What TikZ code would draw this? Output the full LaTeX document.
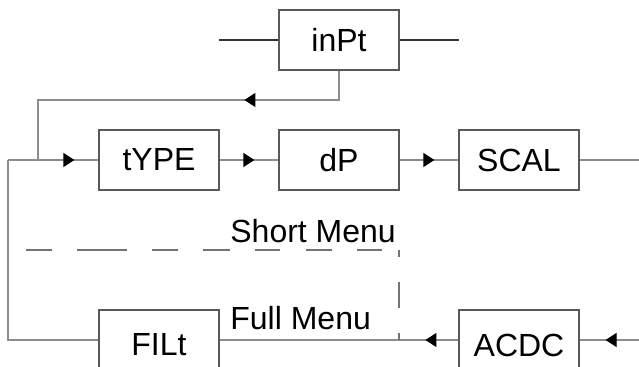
\documentclass[tikz,border=0pt]{standalone}
\usepackage{fontspec}
\setmainfont{Liberation Sans}
\usetikzlibrary{arrows.meta,decorations.markings}

\begin{document}
\begin{tikzpicture}[x=0.5pt,y=0.5pt,
    menubox/.style={draw=black!65,line width=0.6pt,minimum width=60pt,minimum height=30pt,inner sep=0pt,font=\fontsize{16}{19}\selectfont},
    lowbox/.style={menubox,minimum height=35pt},
    wire/.style={draw=black!45,line width=0.6pt},
    stub/.style={draw=black!80,line width=0.6pt},
    menuline/.style={draw=black!55,line width=0.6pt},
    tipat/.style={postaction={decorate},decoration={markings,mark=at position #1 with {\arrow[black]{Triangle[length=5.5pt,width=7pt]}}}}]
      \useasboundingbox (0,0) rectangle (639,367);
      % boxes
      \node[menubox] (inpt) at (339,327) {inPt};
      \node[menubox] (type) at (159,207) {tYPE};
      \node[menubox] (dp) at (339,207) {dP};
      \node[menubox] (scal) at (519,207) {SCAL};
      \node[lowbox] (filt) at (159,22) {FILt};
      \node[lowbox] (acdc) at (519,22) {ACDC};
      \coordinate (inl) at (219,327);
      \coordinate (inr) at (459,327);
      \coordinate (loop) at (38,267);
      \coordinate (branch) at (38,207);
      \coordinate (entry) at (8,207);
      \coordinate (corner) at (8,27);
      \coordinate (exit) at (639,207);
      \coordinate (feed) at (639,27);
      % top stubs
      \draw[stub] (inl) -- (inpt);
      \draw[stub] (inpt) -- (inr);
      % return loop
      \draw[wire,tipat=62pt] (inpt.south) |- (loop) -- (branch);
      % short menu row
      \draw[wire,tipat=-12pt] (entry) -- (type);
      \draw[wire,tipat=-12pt] (type) -- (dp);
      \draw[wire,tipat=-12pt] (dp) -- (scal);
      \draw[wire] (scal) -- (exit);
      % full menu row
      \draw[wire] (entry) -- (corner) -- ([yshift=2.5pt]filt.west);
      \draw[wire,tipat=-13pt] (feed) -- ([yshift=2.5pt]acdc.east);
      \draw[wire,tipat=16.5pt] ([yshift=2.5pt]acdc.west) -- ([yshift=2.5pt]filt.east);
      % menu split
      \draw[menuline,dash pattern=on 13pt off 12.5pt on 25pt off 12.5pt on 13pt off 12.5pt on 13.5pt off 12.5pt on 12.5pt off 13pt on 13pt off 12.5pt on 12.5pt off 50pt] (26,117) -- (382,117);
      \draw[menuline,dash pattern=on 3.5pt off 12.5pt on 13pt off 12.5pt on 3.5pt off 50pt] (399,27) -- (399,117);
      \node[anchor=base west,inner sep=0pt,font=\fontsize{16}{19}\selectfont] (short) at (230,124) {Short Menu};
      \node[anchor=base west,inner sep=0pt,font=\fontsize{16}{19}\selectfont] (full) at (230,37) {Full Menu};
\end{tikzpicture}
\end{document}
